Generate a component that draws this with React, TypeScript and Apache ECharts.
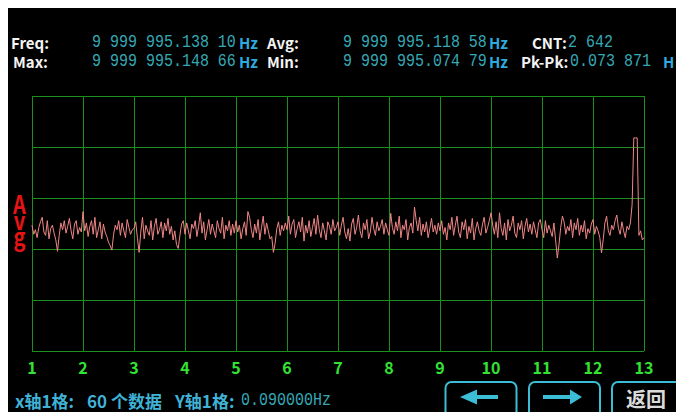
import React, { useEffect, useRef } from "react";
import * as echarts from "echarts";

// ---- data ----
const SAMPLES_PER_DIV = 60; // x axis: 1 division = 60 samples
const X_DIVS = 12;
const X_LABELS = ["1", "2", "3", "4", "5", "6", "7", "8", "9", "10", "11", "12", "13"];
const Y_PER_DIV = 90; // mHz per division (0.090000 Hz)
const Y_DIVS = 5;
const STEP = 2; // samples between plotted points

// frequency deviation (mHz above the bottom of the screen), one value every STEP samples
const VALUES = [
  222, 206, 214, 200, 218, 228, 236, 210, 204, 230, 198, 216, 222, 208, 196, 176, 204, 226, 214, 230, 208, 220, 234, 212, 198, 224, 230, 206, 218, 210,
  246, 212, 226, 202, 220, 230, 206, 236, 200, 214, 228, 198, 224, 210, 202, 192, 186, 178, 206, 222, 214, 230, 204, 226, 212, 200, 232, 218, 206, 214,
  216, 228, 200, 174, 210, 236, 198, 222, 212, 204, 230, 196, 220, 234, 206, 214, 228, 200, 226, 212, 234, 206, 220, 196, 212, 188, 181, 204, 224, 230,
  206, 226, 212, 198, 224, 216, 230, 202, 220, 244, 208, 228, 196, 214, 232, 206, 224, 212, 200, 230, 216, 208, 236, 198, 222, 212, 230, 204, 224, 208,
  230, 210, 222, 198, 216, 228, 204, 246, 236, 214, 200, 224, 208, 232, 196, 218, 238, 206, 226, 212, 198, 202, 174, 190, 216, 228, 204, 222, 212, 226,
  214, 238, 206, 224, 232, 200, 216, 228, 210, 236, 194, 222, 208, 230, 202, 218, 234, 206, 240, 214, 200, 226, 212, 196, 228, 220, 206, 232, 212, 218,
  228, 204, 222, 236, 210, 198, 216, 194, 224, 234, 206, 218, 240, 212, 200, 226, 214, 232, 198, 210, 236, 216, 204, 228, 212, 220, 232, 206, 226, 214,
  204, 243, 218, 206, 228, 212, 238, 200, 222, 214, 232, 196, 218, 226, 208, 254, 230, 212, 236, 204, 224, 210, 228, 200, 216, 234, 210, 222, 206, 226,
  212, 230, 206, 218, 196, 226, 214, 236, 204, 222, 238, 210, 200, 228, 214, 232, 198, 220, 208, 234, 196, 216, 228, 212, 204, 224, 236, 208, 218, 230,
  244, 222, 206, 228, 200, 244, 216, 204, 226, 196, 232, 212, 222, 238, 208, 200, 226, 214, 230, 198, 220, 234, 210, 224, 206, 228, 214, 200, 226, 232,
  214, 200, 230, 208, 222, 212, 202, 226, 196, 164, 188, 218, 238, 228, 206, 220, 212, 232, 200, 226, 214, 234, 204, 222, 210, 230, 198, 216, 208, 224,
  232, 206, 220, 212, 200, 173, 196, 226, 238, 212, 204, 222, 214, 230, 240, 216, 206, 228, 212, 200, 220, 214, 226, 258, 376, 376, 376, 204, 212, 196,
  200,
];

// header texts
const ROW1 = ["Freq:", "9 999 995.138 10", "Hz", "Avg:", "9 999 995.118 58", "Hz", "CNT:", "2 642"];
const ROW2 = ["Max:", "9 999 995.148 66", "Hz", "Min:", "9 999 995.074 79", "Hz", "Pk-Pk:", "0.073 871", "H"];
const FOOTER = ["x轴1格:", "60 个数据", "Y轴1格:", "0.090000Hz"];
const SIDE_LABEL = "A\nv\ng";
const BACK_LABEL = "返回";

const SANS = '"Noto Sans CJK SC", "Noto Sans", sans-serif';
const MONO = '"Liberation Mono", "DejaVu Sans Mono", monospace';
const WHITE = "#f4f4f4";
const TEAL = "#36a9b6";
const HZ = "#2eaadf";
const CYAN = "#3cbdd6";
const GRID = "#1e8e1e";

function label(x: number, y: number, text: string, fill: string, size = 15) {
  return {
    type: "text",
    x,
    y,
    silent: true,
    style: { text, fill, font: `bold ${size}px ${SANS}`, lineHeight: size, align: "left", verticalAlign: "middle" },
  };
}
function mono(x: number, y: number, text: string) {
  return {
    type: "text",
    x,
    y,
    scaleY: 1.2,
    silent: true,
    style: { text, fill: TEAL, font: `15px ${MONO}`, lineHeight: 14, align: "left", verticalAlign: "middle" },
  };
}

export default function App() {
  const ref = useRef<HTMLDivElement>(null);
  useEffect(() => {
    const chart = echarts.init(ref.current!, null, { renderer: "svg" });
    const data = VALUES.map((v, i) => [i * STEP, v]);
    const r1 = 34;
    const r2 = 53;
    const fy = 392;
    chart.setOption({
      animation: false,
      backgroundColor: "#000000",
      grid: { left: 24, top: 88, width: 612, height: 255 },
      xAxis: {
        type: "value",
        min: 0,
        max: SAMPLES_PER_DIV * X_DIVS,
        interval: SAMPLES_PER_DIV,
        axisLine: { show: false },
        axisTick: { show: false },
        splitLine: { show: true, lineStyle: { color: GRID, width: 1 } },
        axisLabel: {
          margin: 8,
          color: "#33e233",
          fontSize: 16,
          fontWeight: "bold",
          fontFamily: SANS,
          showMinLabel: true,
          showMaxLabel: true,
          formatter: (v: number) => X_LABELS[Math.round(v / SAMPLES_PER_DIV)] ?? "",
        },
      },
      yAxis: {
        type: "value",
        min: 0,
        max: Y_PER_DIV * Y_DIVS,
        interval: Y_PER_DIV,
        axisLine: { show: false },
        axisTick: { show: false },
        axisLabel: { show: false },
        splitLine: { show: true, lineStyle: { color: GRID, width: 1 } },
      },
      series: [
        {
          type: "line",
          data,
          symbol: "none",
          lineStyle: { color: "#f08686", width: 1 },
          clip: false,
        },
      ],
      graphic: [
        label(3, r1, ROW1[0], WHITE),
        mono(84, r1, ROW1[1]),
        label(231, r1, ROW1[2], HZ),
        label(259, r1, ROW1[3], WHITE),
        mono(335, r1, ROW1[4]),
        label(481, r1, ROW1[5], HZ),
        label(524, r1, ROW1[6], WHITE),
        mono(560, r1, ROW1[7]),
        label(5, r2, ROW2[0], WHITE),
        mono(84, r2, ROW2[1]),
        label(231, r2, ROW2[2], HZ),
        label(259, r2, ROW2[3], WHITE),
        mono(335, r2, ROW2[4]),
        label(481, r2, ROW2[5], HZ),
        label(513, r2, ROW2[6], WHITE),
        mono(562, r2, ROW2[7]),
        label(655, r2, ROW2[8], HZ),
        {
          type: "text", x: 11.5, y: 187, scaleY: 1.25, silent: true,
          style: { text: SIDE_LABEL, fill: "#e81414", font: `bold 20px ${SANS}`, lineHeight: 13, align: "center", verticalAlign: "top" },
        },
        label(7, fy, FOOTER[0], "#3fb2d6", 17),
        label(79, fy, FOOTER[1], "#3fb2d6", 17),
        label(167, fy, FOOTER[2], "#3fb2d6", 17),
        mono(233, fy, FOOTER[3]),
        {
          type: "rect", silent: true,
          shape: { x: 437.5, y: 374, width: 71, height: 42, r: 6 },
          style: { fill: "none", stroke: CYAN, lineWidth: 2 },
        },
        {
          type: "rect", silent: true,
          shape: { x: 521, y: 374, width: 71, height: 42, r: 6 },
          style: { fill: "none", stroke: CYAN, lineWidth: 2 },
        },
        {
          type: "rect", silent: true,
          shape: { x: 604, y: 374, width: 80, height: 42, r: 6 },
          style: { fill: "none", stroke: CYAN, lineWidth: 2 },
        },
        {
          type: "polygon", silent: true,
          shape: { points: [[452, 389], [469, 381.5], [469, 387], [490, 387], [490, 391], [469, 391], [469, 396.5]] },
          style: { fill: CYAN },
        },
        {
          type: "polygon", silent: true,
          shape: { points: [[574, 389], [562, 381.5], [562, 387], [535, 387], [535, 391], [562, 391], [562, 396.5]] },
          style: { fill: CYAN },
        },
        {
          type: "text", x: 638, y: 390, silent: true,
          style: { text: BACK_LABEL, fill: "#dadada", font: `bold 20px ${SANS}`, lineHeight: 20, align: "center", verticalAlign: "middle" },
        },
      ],
    });
    return () => chart.dispose();
  }, []);
  return (
    <div
      ref={ref}
      style={{ position: "fixed", left: 8, top: 8, width: 668, height: 404, background: "#000" }}
    />
  );
}
